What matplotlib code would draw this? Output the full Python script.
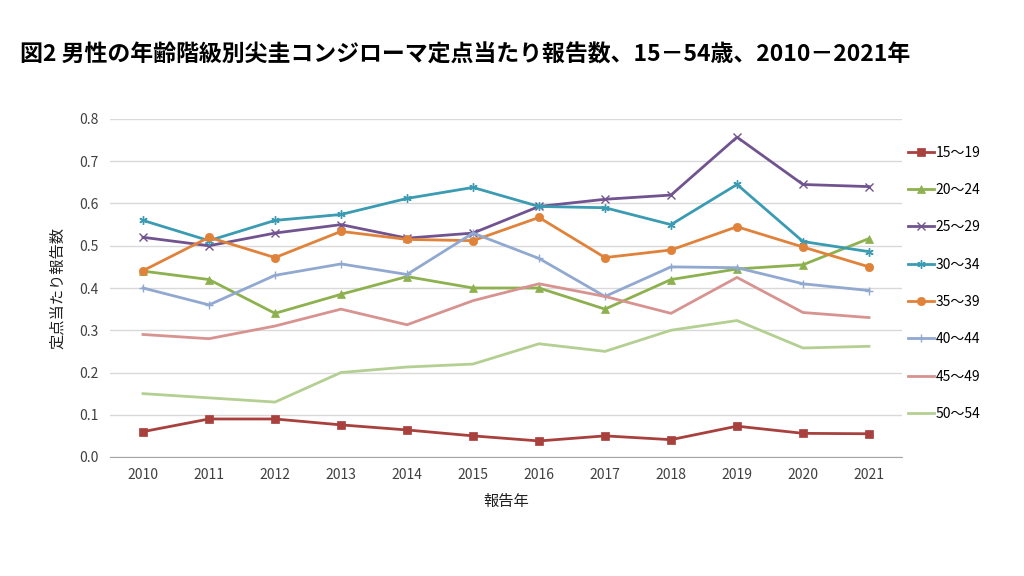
import numpy as np
import matplotlib.pyplot as plt

plt.rcParams['font.family'] = ['Noto Sans CJK JP', 'DejaVu Sans']

years = [2010, 2011, 2012, 2013, 2014, 2015, 2016, 2017, 2018, 2019, 2020, 2021]
age_groups = ['15～19', '20～24', '25～29', '30～34', '35～39', '40～44', '45～49', '50～54']

r15_19 = [0.060, 0.090, 0.090, 0.076, 0.064, 0.050, 0.038, 0.050, 0.041, 0.073, 0.056, 0.055]
r20_24 = [0.440, 0.420, 0.340, 0.385, 0.427, 0.400, 0.400, 0.350, 0.420, 0.445, 0.455, 0.517]
r25_29 = [0.520, 0.500, 0.530, 0.550, 0.518, 0.530, 0.593, 0.610, 0.620, 0.757, 0.645, 0.640]
r30_34 = [0.560, 0.512, 0.560, 0.574, 0.612, 0.638, 0.593, 0.590, 0.550, 0.645, 0.510, 0.486]
r35_39 = [0.441, 0.520, 0.472, 0.534, 0.515, 0.512, 0.567, 0.472, 0.490, 0.545, 0.497, 0.450]
r40_44 = [0.400, 0.360, 0.430, 0.457, 0.432, 0.530, 0.470, 0.380, 0.450, 0.448, 0.410, 0.394]
r45_49 = [0.290, 0.280, 0.310, 0.350, 0.313, 0.370, 0.410, 0.380, 0.340, 0.425, 0.342, 0.330]
r50_54 = [0.150, 0.140, 0.130, 0.200, 0.213, 0.220, 0.268, 0.250, 0.300, 0.323, 0.258, 0.262]

series = [r15_19, r20_24, r25_29, r30_34, r35_39, r40_44, r45_49, r50_54]
colors = ['#A8403D', '#8DB14E', '#71548F', '#3A9BB3', '#E0823A', '#91A8D0', '#D79390', '#B4CF92']
markers = ['s', '^', 'x', (6, 2, 0), 'o', '+', None, None]

fig = plt.figure(figsize=(10.24, 5.76), dpi=100)
ax = fig.add_axes([110 / 1024, 1 - 457 / 576, 792 / 1024, 338 / 576])

x = np.arange(len(years))
for vals, lab, c, m in zip(series, age_groups, colors, markers):
    ax.plot(x, vals, color=c, lw=2, marker=m, markersize=6,
            markeredgewidth=1 if m not in ('s', '^', 'o') else 0.5, label=lab)

ax.set_xlim(-0.5, len(years) - 0.5)
ax.set_ylim(0, 0.8)
ax.set_xticks(x)
ax.set_xticklabels([str(y) for y in years], fontsize=10, color='#404040')
ax.set_yticks(np.arange(0, 0.81, 0.1))
ax.set_yticklabels([f'{v:.1f}' for v in np.arange(0, 0.81, 0.1)], fontsize=10, color='#404040')
ax.tick_params(length=0, pad=8)
ax.grid(axis='y', color='#D9D9D9', lw=1)
ax.set_axisbelow(True)
for s in ['top', 'right', 'left']:
    ax.spines[s].set_visible(False)
ax.spines['bottom'].set_color('#A6A6A6')

ax.set_ylabel('定点当たり報告数', fontsize=11, color='#202020', labelpad=10)
ax.set_xlabel('報告年', fontsize=11, color='#202020', labelpad=8)

ax.legend(loc='upper left', bbox_to_anchor=(0.995, 0.95), frameon=False,
          fontsize=10, handlelength=1.9, handletextpad=0.1, labelspacing=1.68,
          borderaxespad=0.3)

fig.text(20 / 1024, 1 - 55 / 576, '図2 男性の年齢階級別尖圭コンジローマ定点当たり報告数、15－54歳、2010－2021年',
         fontsize=16.5, fontweight='bold', va='center', ha='left')

fig.savefig('out.png', dpi=100)
